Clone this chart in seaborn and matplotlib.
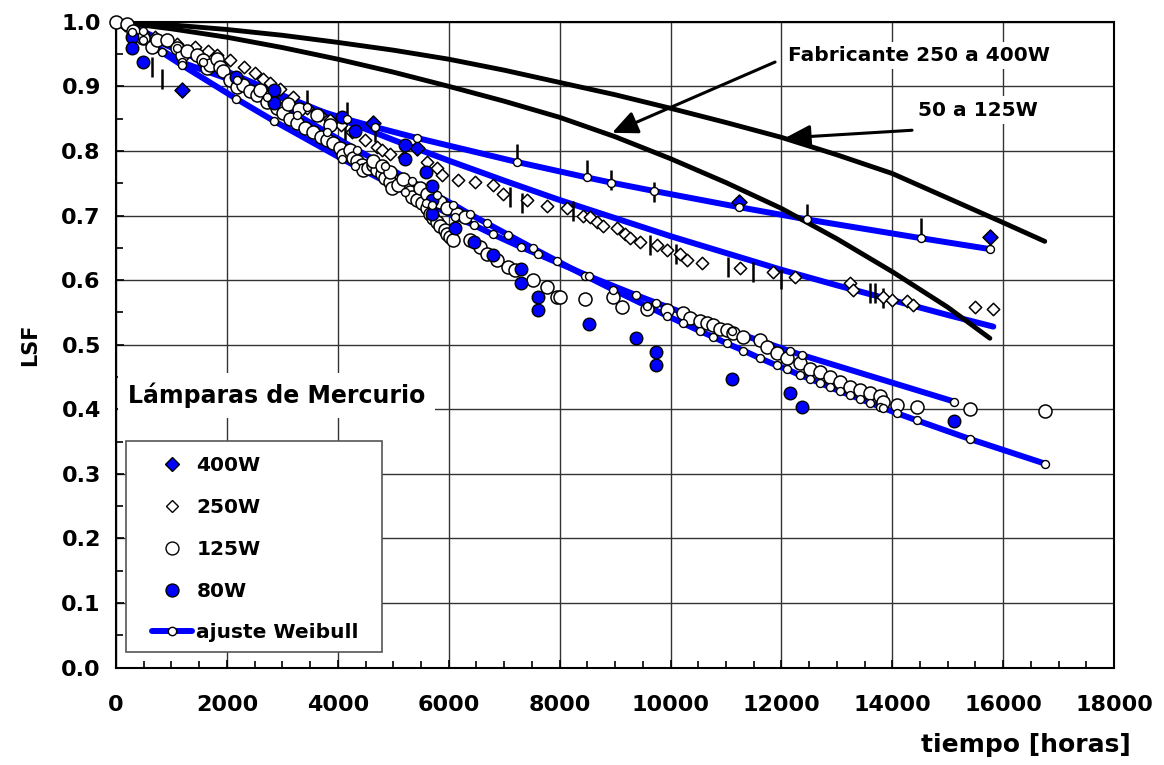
import matplotlib
matplotlib.use("Agg")
import matplotlib.pyplot as plt
import seaborn as sns
from matplotlib.lines import Line2D
from matplotlib.patches import Rectangle
from matplotlib.ticker import MultipleLocator, FormatStrFormatter

# ---------------- data ----------------
# 400W (blue diamonds)
x400 = [1185, 4640, 5430, 11236, 15760]
y400 = [0.894, 0.843, 0.804, 0.721, 0.667]

# 250W (white diamonds)
x250 = [160, 310, 490, 700, 900, 1100, 1425, 1650, 1816, 2050,
        2300, 2507, 2657, 2778, 2950, 3198, 3438, 3679, 3860, 4050,
        4250, 4490, 4702, 4792, 4942, 5200, 5602, 5782, 5873, 6174, 6475,
        6806, 6986, 7405, 7768, 8128, 8420, 8549, 8669, 8789, 9030,
        9180, 9270, 9451, 9752, 9932, 10172, 10293, 10563, 11254, 11855,
        12246, 13238, 13297, 13840, 13990, 14261, 14380, 15490, 15810]
y250 = [0.995, 0.99, 0.982, 0.976, 0.971, 0.966, 0.961, 0.954, 0.948, 0.94,
        0.93, 0.92, 0.912, 0.905, 0.896, 0.884, 0.866, 0.856, 0.848, 0.84,
        0.83, 0.817, 0.806, 0.801, 0.796, 0.790, 0.783, 0.773, 0.763, 0.755, 0.752,
        0.747, 0.733, 0.724, 0.715, 0.711, 0.70, 0.698, 0.69, 0.683, 0.68,
        0.672, 0.665, 0.659, 0.654, 0.647, 0.641, 0.631, 0.626, 0.618, 0.613,
        0.605, 0.595, 0.585, 0.574, 0.569, 0.567, 0.561, 0.559, 0.555]

# 125W (white circles)
x125 = [0, 193, 313, 493, 644, 734, 914, 1094, 1185, 1275,
        1455, 1575, 1635, 1695, 1815, 1876, 1936, 2050, 2177, 2296,
        2417, 2538, 2600, 2718, 2800, 2898, 3017, 3100, 3138, 3258,
        3300, 3409, 3559, 3619, 3700, 3800, 3860, 3919, 4040, 4100,
        4220, 4280, 4340, 4430, 4460, 4550, 4640, 4700, 4792, 4852,
        4942, 4972, 5092, 5303, 5333, 5423, 5513, 5603, 5663, 5723,
        5783, 5843, 5933, 5963, 6024, 6084, 6385, 6565, 6685, 6866,
        7076, 7196, 7527, 7768, 7948, 8008, 8459, 8970, 9120, 9570,
        9932, 10232, 10353, 10533, 10653, 10773, 10894, 11014, 11134, 11314,
        11615, 11735, 11915, 12096, 12337, 12517, 12697, 12878, 13058, 13238,
        13418, 13599, 13779, 13840, 14080, 14440, 15400, 16750,
        4640, 4800, 4942, 5182, 5483, 5603, 5843, 5963, 6144, 6300]
y125 = [1.0, 0.996, 0.985, 0.975, 0.961, 0.972, 0.972, 0.959, 0.948, 0.954,
        0.948, 0.941, 0.928, 0.933, 0.943, 0.930, 0.923, 0.910, 0.899, 0.902,
        0.892, 0.886, 0.895, 0.876, 0.885, 0.866, 0.858, 0.872, 0.850, 0.843,
        0.865, 0.835, 0.830, 0.855, 0.822, 0.817, 0.840, 0.812, 0.804, 0.794,
        0.801, 0.789, 0.785, 0.778, 0.770, 0.773, 0.778, 0.770, 0.765, 0.758,
        0.752, 0.742, 0.747, 0.737, 0.729, 0.724, 0.719, 0.711, 0.703, 0.696,
        0.690, 0.683, 0.678, 0.672, 0.667, 0.662, 0.662, 0.652, 0.641, 0.631,
        0.621, 0.616, 0.600, 0.590, 0.574, 0.574, 0.570, 0.574, 0.559, 0.556,
        0.554, 0.549, 0.541, 0.536, 0.533, 0.530, 0.525, 0.523, 0.518, 0.512,
        0.507, 0.497, 0.487, 0.479, 0.471, 0.463, 0.458, 0.450, 0.443, 0.435,
        0.430, 0.425, 0.420, 0.412, 0.407, 0.403, 0.400, 0.397,
        0.784, 0.776, 0.768, 0.757, 0.742, 0.734, 0.721, 0.712, 0.703, 0.697]

# 80W (blue circles)
x80 = [283, 283, 481, 2164, 2855, 2855, 4070, 4310, 5212, 5212,
       5591, 5694, 5694, 5694, 6115, 6457, 6793, 7305, 7305, 7611,
       7611, 8531, 9373, 9740, 9740, 11110, 12156, 12367, 15114]
y80 = [0.977, 0.959, 0.937, 0.915, 0.894, 0.874, 0.853, 0.831, 0.809, 0.787,
       0.768, 0.745, 0.724, 0.702, 0.681, 0.659, 0.639, 0.617, 0.596, 0.574,
       0.553, 0.532, 0.510, 0.489, 0.468, 0.447, 0.426, 0.404, 0.382]

# censored observations (vertical bars)
xcens = [645, 822, 3437, 4160, 4130, 4670, 7225, 8489, 8928, 9700, 12457, 14513,
         7106, 7317, 8243, 9631, 10100, 11040, 11490, 11990, 13600, 13690, 13840]
ycens = [0.930, 0.912, 0.879, 0.860, 0.832, 0.830, 0.796, 0.770, 0.755, 0.737, 0.703, 0.680,
         0.728, 0.720, 0.707, 0.655, 0.640, 0.620, 0.612, 0.601, 0.580, 0.580, 0.572]

# Weibull fits
fit400_x = [0, 1185, 3437, 4160, 4670, 5430, 7225, 8489, 8928, 9700, 11236, 12457, 14513, 15760]
fit400_y = [1.0, 0.937, 0.868, 0.849, 0.837, 0.820, 0.783, 0.759, 0.751, 0.738, 0.713, 0.694, 0.665, 0.648]

fit250_x = [0, 1000, 2000, 3000, 4000, 5000, 6000, 7000, 8000, 9000, 10000,
            11000, 12000, 13000, 14000, 15000, 15822]
fit250_y = [1.0, 0.960, 0.923, 0.886, 0.851, 0.817, 0.785, 0.754, 0.724, 0.696, 0.668,
            0.642, 0.616, 0.592, 0.569, 0.546, 0.528]

fit125_x = [0, 493, 1094, 1575, 2177, 2718, 3258, 3800, 4340, 4852, 5333,
            5783, 6084, 6385, 6685, 7076, 7527, 7948, 8459, 8970, 9570,
            9932, 10232, 10533, 10773, 11014, 11314, 11615, 11915, 12096, 12337,
            12517, 12697, 12878, 13058, 13238, 13418, 13599, 13779, 13840, 14080,
            14440, 15400, 16750]
fit125_y = [1.0, 0.985, 0.960, 0.938, 0.910, 0.883, 0.856, 0.829, 0.802, 0.777, 0.753,
            0.731, 0.717, 0.702, 0.688, 0.670, 0.649, 0.630, 0.607, 0.585, 0.560,
            0.545, 0.533, 0.521, 0.512, 0.502, 0.491, 0.479, 0.468, 0.462, 0.453,
            0.447, 0.441, 0.434, 0.428, 0.422, 0.416, 0.410, 0.404, 0.402, 0.394,
            0.383, 0.354, 0.316]

fit80_x = [0, 283, 481, 822, 1185, 2164, 2855, 4070, 4310, 5212, 5591, 5694, 6115,
           6457, 6793, 7305, 7611, 8531, 9373, 9740, 11110, 12156, 12367, 15114]
fit80_y = [1.0, 0.984, 0.972, 0.953, 0.933, 0.881, 0.846, 0.788, 0.777, 0.737, 0.720, 0.716, 0.698,
           0.685, 0.671, 0.651, 0.640, 0.606, 0.577, 0.565, 0.521, 0.490, 0.484, 0.412]

# manufacturer curves
fab_x = [0, 1000, 2000, 3000, 4000, 5000, 6000, 7000, 8000, 9000, 10000,
         11000, 12000, 13000, 14000, 15000, 15760]
fab_y = [1.0, 0.989, 0.976, 0.960, 0.942, 0.922, 0.900, 0.877, 0.852, 0.822, 0.788,
         0.751, 0.711, 0.664, 0.613, 0.558, 0.510]
low_x = [0, 1000, 2000, 3000, 4000, 5000, 6000, 7000, 8000, 9000, 10000,
         11000, 12000, 13000, 14000, 15000, 16000, 16750]
low_y = [1.0, 0.995, 0.988, 0.979, 0.968, 0.956, 0.942, 0.925, 0.906, 0.887, 0.866,
         0.844, 0.821, 0.794, 0.765, 0.727, 0.689, 0.660]

legend_labels = ["400W", "250W", "125W", "80W", "ajuste Weibull"]
x_ticks = [0, 2000, 4000, 6000, 8000, 10000, 12000, 14000, 16000, 18000]

# ---------------- style ----------------
sns.set_theme(style="white")
plt.rcParams["font.family"] = ["DejaVu Sans"]
plt.rcParams["font.weight"] = "bold"
plt.rcParams["axes.labelweight"] = "bold"
plt.rcParams["text.color"] = "black"
plt.rcParams["axes.labelcolor"] = "black"
plt.rcParams["xtick.color"] = "black"
plt.rcParams["ytick.color"] = "black"

BLUE = "#0000FF"

fig = plt.figure(figsize=(11.64, 7.65), dpi=100)
ax = fig.add_axes([0.0997, 0.1272, 0.8574, 0.8444])

# fit lines (lines only)
for fx, fy in [(fit250_x, fit250_y), (fit400_x, fit400_y),
               (fit125_x, fit125_y), (fit80_x, fit80_y)]:
    sns.lineplot(x=fx, y=fy, color=BLUE, linewidth=4.3, estimator=None, sort=False,
                 ax=ax, zorder=2, legend=False)

# manufacturer curves
for cx, cy in [(fab_x, fab_y), (low_x, low_y)]:
    sns.lineplot(x=cx, y=cy, color="black", linewidth=3.5, estimator=None, sort=False,
                 ax=ax, zorder=2.5, legend=False)

# censored marks
sns.scatterplot(x=xcens, y=ycens, marker="|", s=200, color="black", linewidth=1.8,
                ax=ax, zorder=2.8, legend=False)

# data
sns.scatterplot(x=x250, y=y250, marker="D", s=40, color="white", edgecolor="black",
                linewidth=1.1, ax=ax, zorder=3, legend=False, clip_on=False)
sns.scatterplot(x=x125, y=y125, marker="o", s=88, color="white", edgecolor="black",
                linewidth=1.1, ax=ax, zorder=3.1, legend=False, clip_on=False)
sns.scatterplot(x=x400, y=y400, marker="D", s=58, color=BLUE, edgecolor="black",
                linewidth=1.1, ax=ax, zorder=3.2, legend=False, clip_on=False)
sns.scatterplot(x=x80, y=y80, marker="o", s=82, color=BLUE, edgecolor="black",
                linewidth=1.0, ax=ax, zorder=3.3, legend=False, clip_on=False)

# fit markers
for fx, fy in [(fit400_x[1:], fit400_y[1:]), (fit125_x[1:], fit125_y[1:]),
               (fit80_x[1:], fit80_y[1:])]:
    sns.scatterplot(x=fx, y=fy, marker="o", s=33, color="white", edgecolor="black",
                    linewidth=1.0, ax=ax, zorder=3.5, legend=False, clip_on=False)

# axes
ax.set_xlim(0, 18000)
ax.set_ylim(0, 1.0)
ax.set_xticks(x_ticks)
ax.set_xticklabels([str(t) for t in x_ticks])
ax.xaxis.set_minor_locator(MultipleLocator(500))
ax.yaxis.set_major_locator(MultipleLocator(0.1))
ax.yaxis.set_minor_locator(MultipleLocator(0.05))
ax.yaxis.set_major_formatter(FormatStrFormatter("%.1f"))
ax.tick_params(axis="both", which="both", direction="in", left=True, bottom=True,
               top=False, right=False, colors="black", labelsize=16)
ax.tick_params(axis="both", which="major", length=6, width=1.2)
ax.tick_params(axis="both", which="minor", length=5, width=1.2)
ax.tick_params(axis="y", pad=11)
ax.tick_params(axis="x", pad=20)
for lab in ax.get_xticklabels() + ax.get_yticklabels():
    lab.set_fontweight("bold")
    lab.set_color("black")
ax.grid(True, which="major", color="#333333", linewidth=1.0)
ax.set_axisbelow(True)
for sp in ax.spines.values():
    sp.set_color("black")
    sp.set_linewidth(1.5)

ax.set_ylabel("LSF", fontsize=15, fontweight="bold", color="black")
ax.yaxis.set_label_coords(-0.086, 0.5)
ax.yaxis.label.set_va("center")
ax.set_xlabel("tiempo [horas]", fontsize=18, fontweight="bold", loc="right", color="black")
ax.xaxis.set_label_coords(1.017, -0.12)
ax.xaxis.label.set_va("center")

# annotations
ax.text(0.012, 0.422, "Lámparas de Mercurio", transform=ax.transAxes, fontsize=17,
        fontweight="bold", ha="left", va="center", color="black",
        bbox=dict(facecolor="white", edgecolor="none", pad=7), zorder=5)
ax.text(12120, 0.948, "Fabricante 250 a 400W", fontsize=14.5, fontweight="bold",
        ha="left", va="center", color="black",
        bbox=dict(facecolor="white", edgecolor="none", pad=3), zorder=5)
ax.text(14465, 0.863, "50 a 125W", fontsize=14.5, fontweight="bold",
        ha="left", va="center", color="black",
        bbox=dict(facecolor="white", edgecolor="none", pad=3), zorder=5)
arrow = dict(arrowstyle="-|>,head_length=0.55,head_width=0.25", color="black", lw=2.2,
             mutation_scale=28, shrinkA=0, shrinkB=0)
ax.annotate("", xy=(8946, 0.828), xytext=(11886, 0.9376), arrowprops=arrow, zorder=6)
ax.annotate("", xy=(12066, 0.820), xytext=(14357, 0.832), arrowprops=arrow, zorder=6)

# legend
frame = Rectangle((0.010, 0.0248), 0.256, 0.3262, transform=ax.transAxes,
                  facecolor="white", edgecolor="#555555", linewidth=1.2, zorder=4.9)
ax.add_patch(frame)
handles = [
    Line2D([], [], linestyle="none", marker="D", markersize=7.5, markerfacecolor=BLUE,
           markeredgecolor="black", markeredgewidth=1.0),
    Line2D([], [], linestyle="none", marker="D", markersize=6.3, markerfacecolor="white",
           markeredgecolor="black", markeredgewidth=1.0),
    Line2D([], [], linestyle="none", marker="o", markersize=9.3, markerfacecolor="white",
           markeredgecolor="black", markeredgewidth=1.0),
    Line2D([], [], linestyle="none", marker="o", markersize=9.3, markerfacecolor=BLUE,
           markeredgecolor="black", markeredgewidth=1.0),
    Line2D([], [], color=BLUE, linewidth=4.3, marker="o", markersize=6,
           markerfacecolor="white", markeredgecolor="black", markeredgewidth=1.0),
]
leg = ax.legend(handles, legend_labels, loc="upper left", bbox_to_anchor=(0.0361, 0.327),
                frameon=False, handlelength=2.0, handletextpad=0.2,
                labelspacing=1.13, borderpad=0, borderaxespad=0,
                prop={"weight": "bold", "size": 14.5})
for t in leg.get_texts():
    t.set_color("black")
leg.set_zorder(5)

fig.savefig("out.png", dpi=100)
